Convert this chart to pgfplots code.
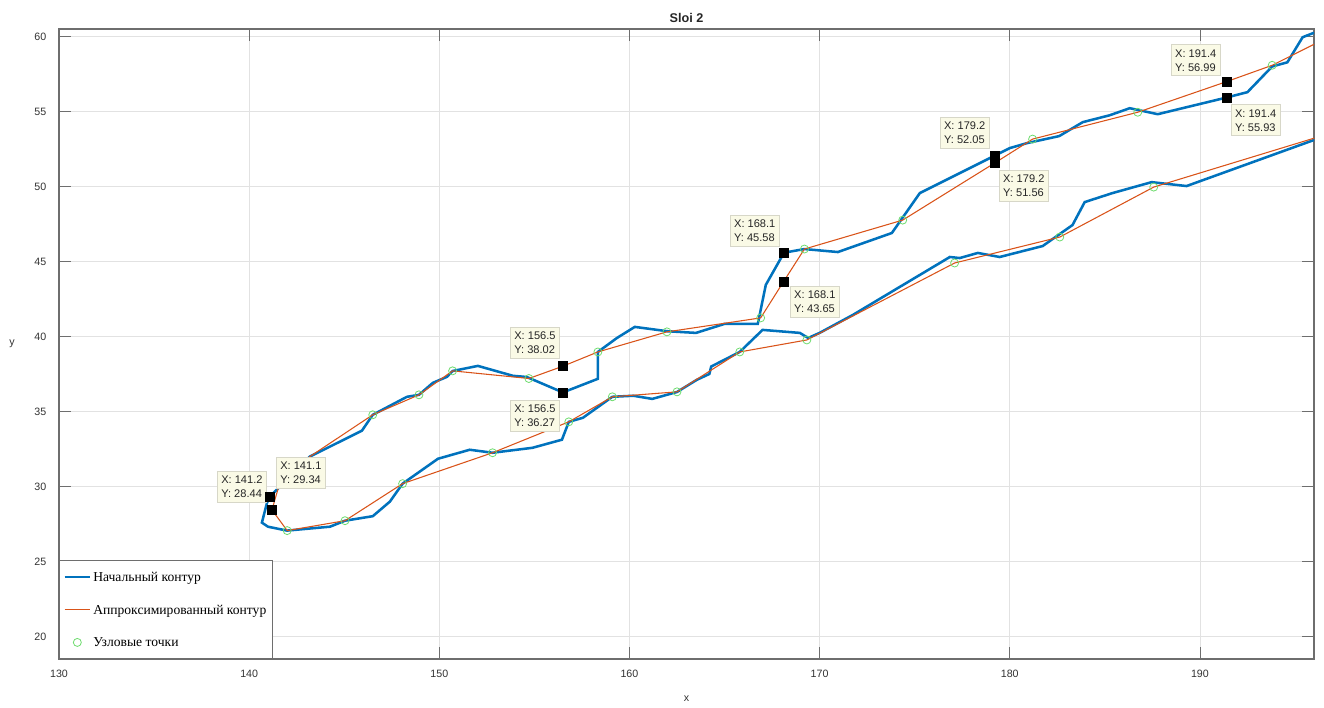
\documentclass[border=0pt]{standalone}
\usepackage{pgfplots}
\pgfplotsset{compat=1.18}
\usepackage{fontspec}
\setmainfont{Liberation Sans}
\newfontfamily\legendfont{Liberation Serif}

\definecolor{mblue}{RGB}{0,114,189}
\definecolor{morange}{RGB}{217,83,25}
\definecolor{mgreen}{RGB}{110,220,110}
\definecolor{tipfill}{RGB}{250,250,230}
\definecolor{tipdraw}{RGB}{215,215,200}
\definecolor{axgray}{RGB}{110,110,110}
\definecolor{gridgray}{RGB}{226,226,226}
\definecolor{labgray}{RGB}{50,50,50}

\tikzset{tip/.style={draw=tipdraw, fill=tipfill, line width=0.5pt, align=left,
  inner xsep=3pt, inner ysep=3.5pt, font=\fontsize{8.3}{10.5}\selectfont, text=black!85}}

\begin{document}
\begin{tikzpicture}
\begin{axis}[
  scale only axis,
  width=941.25pt, height=472.5pt,
  xmin=130, xmax=196, ymin=18.5, ymax=60.5,
  xtick={130,140,...,190}, ytick={20,25,...,60},
  grid=major,
  major grid style={gridgray, line width=0.6pt},
  axis line style={axgray, line width=0.8pt},
  tick style={axgray, line width=0.6pt},
  tick align=inside,
  major tick length=9pt,
  /pgf/number format/assume math mode=true,
  ticklabel style={font=\fontsize{8}{9}\selectfont, text=labgray},
  xticklabel style={yshift=-5pt},
  yticklabel style={xshift=-6pt},
  xlabel={x}, ylabel={y},
  label style={font=\fontsize{8}{9}\selectfont, text=labgray},
  xlabel style={at={(axis description cs:0.5,0)}, anchor=center, yshift=-30pt},
  ylabel style={at={(axis description cs:-0.0375,0.5)}, anchor=center, rotate=-90},
  title={Sloi 2},
  title style={at={(axis description cs:0.5,1)}, anchor=center, yshift=2.25pt,
    font=\bfseries\fontsize{9.5}{11}\selectfont, text=black!85},
  legend cell align=left,
  legend image code/.code={\draw[mark repeat=2, mark phase=2, #1]
    plot coordinates {(0pt,0pt) (9.5pt,0pt) (19pt,0pt)};},
  legend style={at={(axis description cs:0,0)}, anchor=south west,
    draw=axgray, line width=0.6pt, fill=white,
    font=\legendfont\fontsize{10.2}{12}\selectfont,
    row sep=14.7pt, inner xsep=3pt, inner ysep=7.3pt,
    nodes={inner sep=1.5pt, text depth=0pt}},
]

% initial contour
\addplot[mblue, line width=1.9pt] coordinates {
(196.0,60.25)(195.4,59.95)(194.6,58.28)(193.8,58.0)(192.5,56.29)(191.4,55.93)
(187.78,54.82)(186.31,55.22)(185.26,54.75)(183.84,54.29)(182.6,53.36)(180.9,52.89)
(180.0,52.56)(179.2,52.05)(175.27,49.56)(173.8,46.9)(170.96,45.63)(169.2,45.83)
(168.1,45.58)(168.0,45.3)(167.17,43.44)(166.75,40.84)(165.0,40.84)(163.5,40.24)
(162.0,40.35)(160.28,40.64)(159.34,39.9)(158.34,38.97)(158.34,37.18)(156.5,36.27)
(154.6,37.3)(153.87,37.38)(152.03,38.04)(150.7,37.7)(150.4,37.31)(149.66,36.91)
(148.93,36.11)(148.3,35.98)(146.5,34.78)(145.93,33.72)(143.2,32.0)(141.1,29.34)
(140.94,28.92)(140.67,27.59)(140.99,27.32)(141.99,27.06)(144.25,27.32)(145.04,27.72)
(146.5,28.02)(147.4,28.99)(148.07,30.19)(149.93,31.85)(151.6,32.45)(152.8,32.25)
(154.9,32.58)(156.45,33.12)(156.81,34.31)(157.55,34.58)(159.1,35.98)(160.2,36.05)
(161.2,35.84)(162.5,36.3)(163.54,37.11)(164.2,37.5)(164.3,38.0)(165.8,38.97)
(167.0,40.44)(168.96,40.24)(169.4,39.9)(170.0,40.24)(171.75,41.44)(176.85,45.3)
(177.37,45.23)(178.32,45.57)(179.47,45.3)(181.73,46.03)(183.3,47.43)(183.94,48.96)
(185.4,49.56)(187.46,50.29)(189.3,50.03)(196.0,53.1)};
\addlegendentry{Начальный контур}

% approximated contour
\addplot[morange, line width=0.8pt] coordinates {
(196.0,59.48)(193.8,58.08)(191.4,56.99)(186.73,54.95)(181.2,53.16)(179.2,51.56)
(174.37,47.76)(169.2,45.83)(168.1,43.65)(166.9,41.24)(161.97,40.31)(158.34,38.97)
(156.5,38.02)(154.71,37.2)(150.7,37.71)(148.93,36.11)(146.5,34.78)(143.2,32.0)
(141.6,30.2)(141.2,28.44)(142.0,27.06)(145.04,27.72)(148.07,30.19)(152.8,32.25)
(156.81,34.31)(159.1,35.98)(162.5,36.31)(165.8,38.97)(169.33,39.77)(177.1,44.9)
(182.63,46.63)(187.57,49.96)(196.0,53.22)};
\addlegendentry{Аппроксимированный контур}

% node points
\addplot[only marks, mark=o, mark size=3pt, mgreen, line width=0.6pt] coordinates {
(193.8,58.08)(186.73,54.95)(181.2,53.16)(174.37,47.76)(169.2,45.83)(166.9,41.24)
(161.97,40.31)(158.34,38.97)(154.71,37.2)(150.7,37.71)(148.93,36.11)(146.5,34.78)
(142.0,27.06)(145.04,27.72)(148.07,30.19)(152.8,32.25)(156.81,34.31)(159.1,35.98)
(162.5,36.31)(165.8,38.97)(169.33,39.77)(177.1,44.9)(182.63,46.63)(187.57,49.96)};
\addlegendentry{Узловые точки}

% data tip markers
\addplot[only marks, mark=square*, mark size=3.4pt, black, forget plot] coordinates {
(141.1,29.34)(141.2,28.44)(156.5,38.02)(156.5,36.27)(168.1,45.58)(168.1,43.65)
(179.2,52.05)(179.2,51.56)(191.4,56.99)(191.4,55.93)};

% data tip labels
\node[tip] at (axis cs:139.62,29.99) {X: 141.2\\Y: 28.44};
\node[tip] at (axis cs:142.72,30.92) {X: 141.1\\Y: 29.34};
\node[tip] at (axis cs:155.03,39.57) {X: 156.5\\Y: 38.02};
\node[tip] at (axis cs:155.03,34.71) {X: 156.5\\Y: 36.27};
\node[tip] at (axis cs:166.59,47.03) {X: 168.1\\Y: 45.58};
\node[tip] at (axis cs:169.75,42.30) {X: 168.1\\Y: 43.65};
\node[tip] at (axis cs:177.63,53.56) {X: 179.2\\Y: 52.05};
\node[tip] at (axis cs:180.74,50.03) {X: 179.2\\Y: 51.56};
\node[tip] at (axis cs:189.78,58.42) {X: 191.4\\Y: 56.99};
\node[tip] at (axis cs:192.93,54.42) {X: 191.4\\Y: 55.93};
\end{axis}
\path (-44.25pt,-36pt) rectangle (948.75pt,494.25pt);
\end{tikzpicture}
\end{document}
